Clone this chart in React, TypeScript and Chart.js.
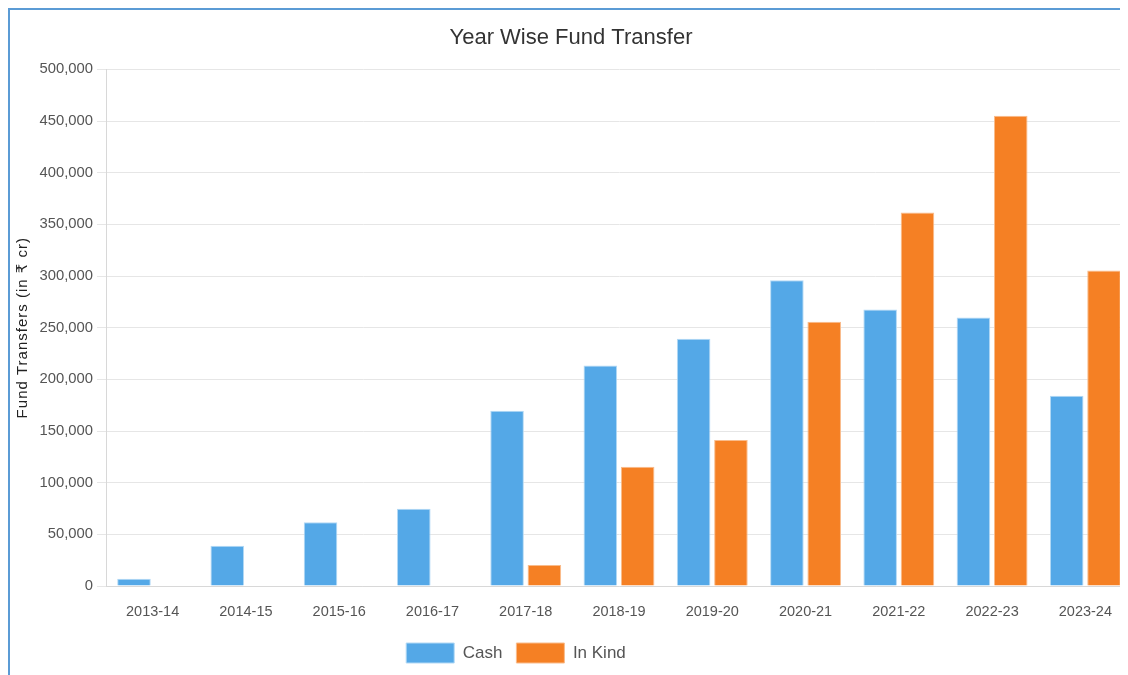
import React, { useEffect, useRef } from "react";
import { Chart, registerables } from "chart.js";

Chart.register(...registerables);

const categories = [
  "2013-14", "2014-15", "2015-16", "2016-17", "2017-18", "2018-19",
  "2019-20", "2020-21", "2021-22", "2022-23", "2023-24",
];
const cashValues = [7000, 38900, 61800, 74700, 169700, 213500, 239200, 296000, 267600, 259900, 184200];
const inKindValues = [0, 0, 0, 0, 20300, 115300, 141400, 255700, 361400, 455100, 305300];
const yTickMax = 500000;
const yTickStep = 50000;

const FONT = "'Liberation Sans', Arial, 'DejaVu Sans', sans-serif";

const tweaks = {
  id: "tweaks",
  afterLayout(chart: any) {
    const l = chart.legend;
    if (l) {
      l.left -= 55;
      l.right -= 55;
    }
    const y = chart.scales && chart.scales.y;
    if (y && !y.__spaced) {
      const orig = y.drawTitle.bind(y);
      y.drawTitle = function (...args: any[]) {
        const ctx = this.ctx;
        ctx.save();
        (ctx as any).letterSpacing = "1px";
        orig(...args);
        ctx.restore();
      };
      y.__spaced = true;
    }
  },
};

export default function App() {
  const ref = useRef<HTMLCanvasElement | null>(null);

  useEffect(() => {
    document.body.style.overflow = "hidden";
    const chart = new Chart(ref.current as HTMLCanvasElement, {
      type: "bar",
      data: {
        labels: categories,
        datasets: [
          {
            label: "Cash",
            data: cashValues,
            backgroundColor: "#54a8e7",
            borderColor: "#b3d9f5",
            borderWidth: 1,
          },
          {
            label: "In Kind",
            data: inKindValues,
            backgroundColor: "#f58024",
            borderColor: "#f9bc8c",
            borderWidth: 1,
          },
        ],
      },
      options: {
        animation: false,
        responsive: false,
        maintainAspectRatio: false,
        layout: { padding: { bottom: 2, left: 0, right: 0, top: 0 } },
        plugins: {
          title: {
            display: true,
            text: "Year Wise Fund Transfer",
            color: "#333",
            font: { family: FONT, size: 22, weight: "normal" },
            padding: { top: 15, bottom: 18 },
          },
          legend: {
            position: "bottom",
            labels: {
              boxWidth: 48,
              boxHeight: 20,
              color: "#555",
              padding: 14,
              font: { family: FONT, size: 17 },
            },
          },
          tooltip: { enabled: false },
        },
        scales: {
          x: {
            grid: { display: false, drawTicks: false },
            border: { display: true, color: "#d8d8d8" },
            ticks: {
              color: "#555",
              padding: 17,
              font: { family: FONT, size: 14.5 },
              maxRotation: 0,
            },
            afterFit: (scale: any) => {
              scale.height = 43;
            },
          },
          y: {
            min: 0,
            max: yTickMax,
            grid: { color: "#e6e6e6", tickLength: 9 },
            border: { display: true, color: "#d8d8d8" },
            ticks: {
              stepSize: yTickStep,
              color: "#555",
              padding: 4,
              font: { family: FONT, size: 14.8 },
              callback: (v: any) => Number(v).toLocaleString("en-US"),
            },
            title: {
              display: true,
              text: "Fund Transfers (in ₹ cr)",
              color: "#222",
              font: { family: FONT, size: 15 },
              padding: { top: 4, bottom: 4 },
            },
            afterFit: (scale: any) => {
              scale.width = 96;
            },
          },
        },
      },
      plugins: [tweaks],
    });
    return () => chart.destroy();
  }, []);

  return (
    <div
      style={{
        width: 1118,
        height: 667,
        borderLeft: "2px solid #5b9bd5",
        borderTop: "2px solid #5b9bd5",
        overflow: "hidden",
        background: "#fff",
      }}
    >
      <canvas ref={ref} width={1122} height={665} style={{ display: "block", width: 1122, height: 665 }} />
    </div>
  );
}
